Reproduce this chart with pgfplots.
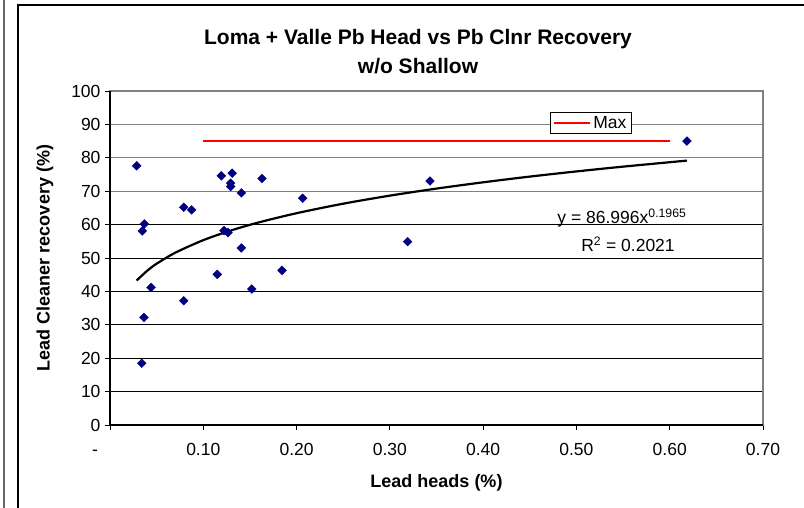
\documentclass[border=0pt]{standalone}
\usepackage{pgfplots}
\pgfplotsset{compat=1.18}
\usepackage{fontspec}
\setmainfont{Liberation Sans}
\definecolor{navy}{RGB}{0,0,128}
\begin{document}
\begin{tikzpicture}[x=1pt,y=1pt]
\useasboundingbox (0,0) rectangle (804,508);
\draw[black!60, line width=1.2pt] (4,-10) -- (4,520);
\draw[black, line width=1.5pt] (18,-10) -- (18,503) -- (820,503);
\begin{axis}[
  at={(110pt,83pt)}, anchor=south west,
  width=653pt, height=334pt, scale only axis,
  xmin=0, xmax=0.7, ymin=0, ymax=100,
  xtick={0,0.1,0.2,0.3,0.4,0.5,0.6,0.7},
  xticklabels={{\vphantom{0}\hbox to 0pt{\hss-\hskip 12pt}},0.10,0.20,0.30,0.40,0.50,0.60,0.70},
  ytick={0,10,20,30,40,50,60},
  extra y ticks={70,80,90,100},
  extra y tick style={grid style={black!50, line width=1.1pt}},
  ymajorgrids,
  grid style={black, line width=0.9pt},
  xtick pos=bottom, ytick pos=left,
  tick align=outside, major tick length=5pt,
  tick style={black, line width=0.9pt},
  axis line style={black!50, line width=1.1pt},
  /pgf/number format/assume math mode=true,
  tick label style={font=\fontsize{17.5}{19}\selectfont},
  xticklabel style={yshift=-10pt},
  yticklabel style={xshift=-1pt},
  title={Loma + Valle Pb Head vs Pb Clnr Recovery\\w/o Shallow},
  title style={at={(axis description cs:0.4717,1.1003)}, anchor=center, align=center, font=\bfseries\fontsize{21}{29}\selectfont},
  xlabel={Lead heads (\%)},
  xlabel style={at={(axis description cs:0.5,-0.1737)}, anchor=center, font=\bfseries\fontsize{18}{20}\selectfont},
  ylabel={Lead Cleaner recovery (\%)},
  ylabel style={at={(axis description cs:-0.0995,0.5)}, anchor=center, font=\bfseries\fontsize{18}{20}\selectfont},
  legend style={at={(axis description cs:0.7365,0.904)}, anchor=center, draw=black, line width=0.8pt, font=\fontsize{17.5}{19}\selectfont, inner xsep=3pt, inner ysep=2pt, legend cell align=left},
  legend image code/.code={\draw[#1, line width=2pt] (0pt,0pt) -- (36pt,0pt);},
  clip=false,
]
\draw[black, line width=1.2pt] (rel axis cs:0,1) -- (rel axis cs:0,0) -- (rel axis cs:1,0);
\addplot[only marks, mark=square*, mark size=3.1pt, mark options={rotate=45, fill=navy, draw=navy}, forget plot] coordinates {
(0.0286,77.6) (0.0368,60.2) (0.0346,58.1) (0.044,41.2) (0.0364,32.2) (0.034,18.5)
(0.079,65.2) (0.0875,64.4) (0.079,37.2) (0.1193,74.6) (0.131,75.4) (0.1293,72.4)
(0.1293,71.4) (0.1408,69.5) (0.163,73.8) (0.1222,58.2) (0.1265,57.6) (0.1408,53.0)
(0.115,45.1) (0.152,40.7) (0.1844,46.3) (0.2065,67.9) (0.343,73.05) (0.319,54.9)
(0.6185,85.0)
};
\addplot[black, line width=2.2pt, smooth, forget plot] coordinates {
(0.0286,43.27) (0.04,46.21) (0.05,48.29) (0.07,51.59) (0.1,55.34) (0.13,58.27)
(0.16,60.69) (0.2,63.41) (0.25,66.26) (0.3,68.67) (0.35,70.78) (0.4,72.66)
(0.45,74.37) (0.5,75.92) (0.55,77.35) (0.6185,79.16)
};
\addplot[red, line width=2.2pt] coordinates {(0.1,85) (0.6,85)};
\addlegendentry{Max}
\node[font=\fontsize{17.5}{19}\selectfont] at (axis cs:0.5488,62.0) {y = 86.996x\textsuperscript{0.1965}};
\node[font=\fontsize{17.5}{19}\selectfont] at (axis cs:0.5553,54.2) {R\textsuperscript{2} = 0.2021};
\end{axis}
\end{tikzpicture}
\end{document}
